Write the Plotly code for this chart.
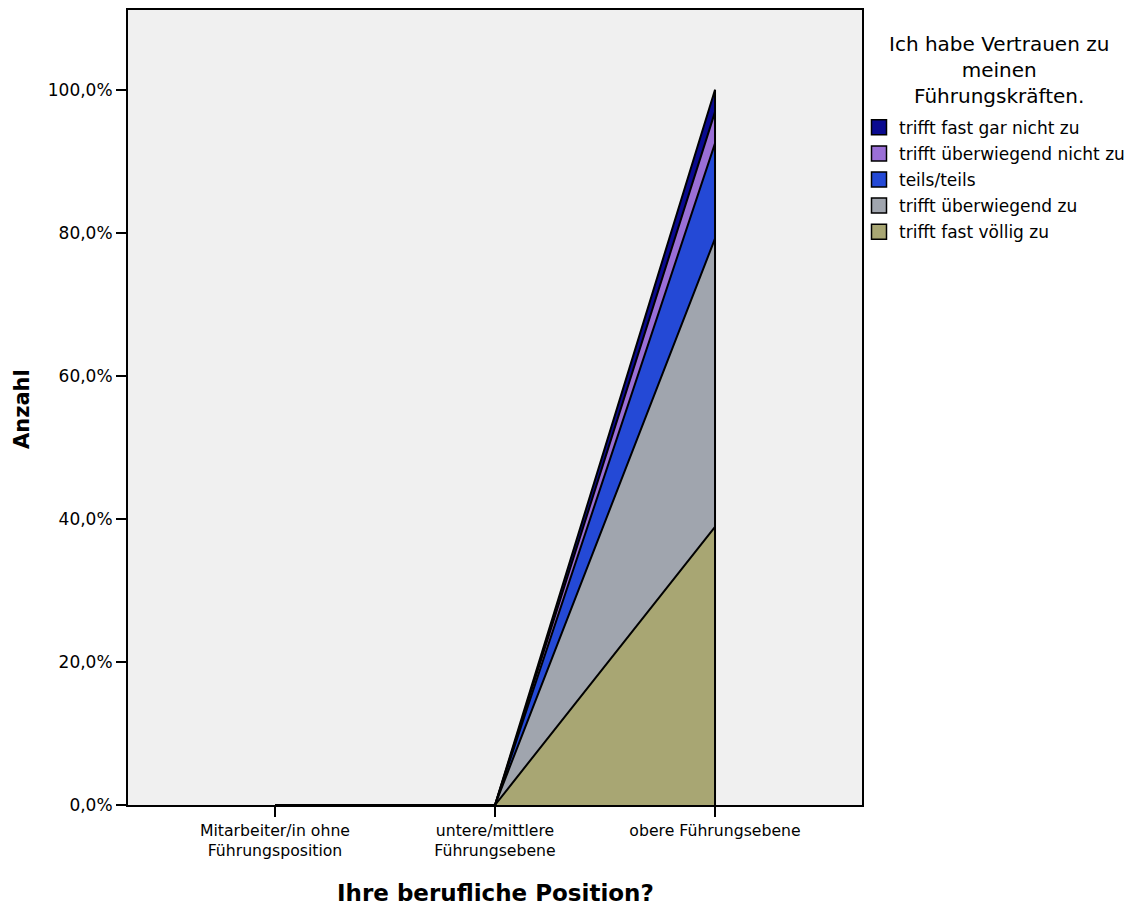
import plotly.graph_objects as go

categories = ["Mitarbeiter/in ohne<br>Führungsposition",
              "untere/mittlere<br>Führungsebene",
              "obere Führungsebene"]

# percentages per category (stacked bottom -> top)
series_names = ["trifft fast völlig zu", "trifft überwiegend zu", "teils/teils",
                "trifft überwiegend nicht zu", "trifft fast gar nicht zu"]
voellig_zu = [0.0, 0.0, 38.9]
ueberwiegend_zu = [0.0, 0.0, 40.3]
teils_teils = [0.0, 0.0, 13.3]
ueberwiegend_nicht_zu = [0.0, 0.0, 4.4]
fast_gar_nicht_zu = [0.0, 0.0, 3.1]
series_values = [voellig_zu, ueberwiegend_zu, teils_teils, ueberwiegend_nicht_zu, fast_gar_nicht_zu]
series_colors = ["#A8A673", "#A0A5AE", "#2449D6", "#9A6FD6", "#0A0A90"]

y_ticks = [0, 20, 40, 60, 80, 100]
y_tick_labels = ["0,0%", "20,0%", "40,0%", "60,0%", "80,0%", "100,0%"]

legend_title = "Ich habe Vertrauen zu<br>meinen<br>Führungskräften."
x_title = "Ihre berufliche Position?"
y_title = "Anzahl"

fig = go.Figure()

for name, vals, col in zip(series_names, series_values, series_colors):
    fig.add_trace(go.Scatter(
        x=categories, y=vals, name=name, stackgroup="one", mode="lines",
        line=dict(color="black", width=2), fillcolor=col,
        showlegend=False, hoverinfo="skip"))

# closing vertical edge at the last category
totals = [sum(v) for v in zip(*series_values)]
fig.add_trace(go.Scatter(
    x=[categories[-1], categories[-1]], y=[0, totals[-1]], mode="lines",
    line=dict(color="black", width=2), showlegend=False, hoverinfo="skip"))

# legend entries (top of stack first)
for name, col in reversed(list(zip(series_names, series_colors))):
    fig.add_trace(go.Scatter(
        x=[None], y=[None], mode="markers", name=name, legendgroup=name,
        marker=dict(symbol="square", size=15, color=col,
                    line=dict(color="black", width=1.5))))

OFF = 8  # page body margin
L, R, T, B = 128 - OFF, 862 - OFF, 8 - OFF, 805 - OFF
W, H = 1134 - OFF, 911 - OFF

def px_x(p):
    return (p - OFF - L) / (R - L)

def px_y(p):
    return (B - (p - OFF)) / (B - T)

fig.update_layout(
    width=W, height=H,
    margin=dict(l=L, r=W - R, t=T, b=H - B, pad=0),
    paper_bgcolor="white", plot_bgcolor="#F0F0F0",
    font=dict(family="DejaVu Sans, Liberation Sans, Arial, sans-serif", color="black", size=16),
    hovermode=False,
    showlegend=True,
    legend=dict(x=px_x(859), y=px_y(108), xanchor="left", yanchor="top",
                font=dict(size=17, family="DejaVu Sans, sans-serif"),
                traceorder="grouped", tracegroupgap=1,
                bgcolor="rgba(0,0,0,0)", borderwidth=0, itemclick=False),
    xaxis=dict(type="category", categoryorder="array", categoryarray=categories,
               range=[-0.668, 2.668], showgrid=False, zeroline=False,
               showline=True, linecolor="black", linewidth=2, mirror=True,
               ticks="outside", ticklen=10, tickwidth=2, tickcolor="black",
               tickfont=dict(size=15.7, family="DejaVu Sans, sans-serif")),
    yaxis=dict(range=[0, 111.15], tickvals=y_ticks, ticktext=y_tick_labels,
               showgrid=False, zeroline=False,
               showline=True, linecolor="black", linewidth=2, mirror=True,
               ticks="outside", ticklen=10, tickwidth=2, tickcolor="black",
               tickfont=dict(size=17, family="DejaVu Sans, sans-serif")),
    annotations=[
        dict(text=legend_title, x=px_x(999), y=px_y(28), xref="paper", yref="paper",
             xanchor="center", yanchor="top", showarrow=False, align="center",
             font=dict(size=20, family="DejaVu Sans, sans-serif")),
        dict(text="<b>" + y_title + "</b>", x=px_x(22), y=px_y(408), xref="paper", yref="paper",
             xanchor="center", yanchor="middle", showarrow=False, textangle=-90,
             font=dict(size=21, family="DejaVu Sans, sans-serif")),
        dict(text="<b>" + x_title + "</b>", x=px_x(495), y=px_y(893), xref="paper", yref="paper",
             xanchor="center", yanchor="middle", showarrow=False,
             font=dict(size=23, family="DejaVu Sans, sans-serif")),
    ],
)

fig.write_html("out.html")
